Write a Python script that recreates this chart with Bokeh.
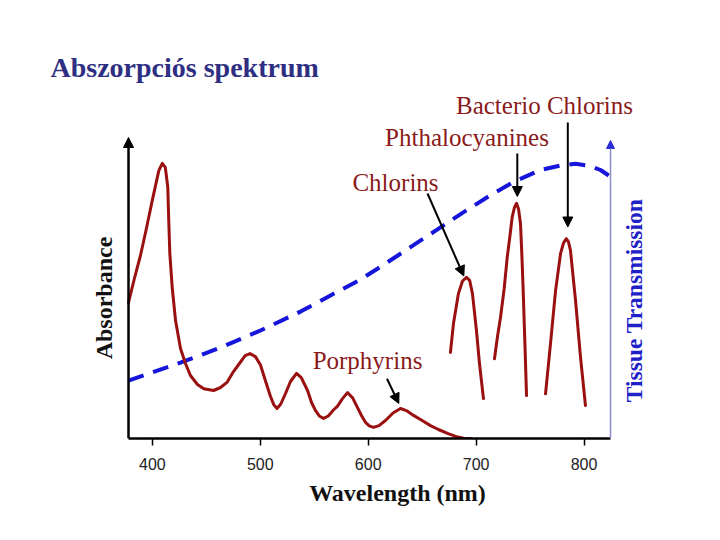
from bokeh.plotting import figure
from bokeh.models import Label, Arrow, NormalHead, FixedTicker, Range1d
from bokeh.embed import file_html
from bokeh.resources import INLINE

# ---------------- data ----------------
# Porphyrin absorbance spectrum (wavelength nm, absorbance arb. units 0-100)
porphyrin_wl = [377.9, 383.5, 389.0, 394.5, 399.9, 406.0, 409.2, 412.0, 414.3, 415.2,
                416.2, 418.4, 421.5, 426.1, 430.7, 435.3, 441.8, 447.7, 456.7, 463.2,
                469.4, 475.2, 481.7, 486.0, 490.5, 495.5, 500.2, 505.0, 509.5, 512.5,
                515.5, 519.0, 523.4, 528.0, 533.6, 538.0, 543.8, 547.5, 551.2, 555.0,
                558.6, 563.0, 567.8, 571.6, 576.0, 580.8, 585.5, 590.1, 594.0, 597.5,
                601.0, 604.9, 610.0, 616.0, 623.0, 629.9, 636.0, 642.0, 650.0, 657.7,
                665.0, 673.5, 681.0, 688.3, 694.8]
porphyrin_abs = [45.3, 53.5, 61.0, 70.0, 79.3, 89.3, 91.7, 90.4, 83.8, 72.7,
                 61.7, 50.4, 39.3, 30.0, 25.0, 21.0, 18.0, 16.6, 16.0, 17.0,
                 18.8, 22.3, 25.5, 27.6, 28.3, 27.3, 24.5, 19.0, 14.0, 11.3,
                 10.0, 11.5, 15.0, 19.0, 21.7, 20.3, 16.0, 12.0, 9.3, 7.4,
                 6.7, 7.5, 9.5, 10.8, 13.2, 15.3, 13.6, 10.3, 7.5, 5.4,
                 4.2, 3.7, 4.3, 6.0, 8.5, 10.0, 9.2, 7.7, 6.0, 4.3,
                 3.0, 1.7, 0.7, 0.1, 0.0]

chlorin_wl = [676.2, 679.0, 683.6, 687.4, 691.1, 694.0, 696.6, 700.3, 703.1, 706.8]
chlorin_abs = [28.7, 38.3, 48.3, 52.5, 53.7, 52.7, 48.3, 36.0, 25.0, 13.3]

phthalo_wl = [717.0, 719.8, 722.6, 726.0, 728.8, 731.5, 733.4, 735.5, 737.4, 739.3,
              741.1, 742.4, 743.6, 745.1, 746.7]
phthalo_abs = [26.6, 34.0, 40.4, 50.0, 60.4, 68.0, 73.8, 77.0, 78.4, 76.5,
               71.6, 61.0, 49.3, 32.7, 14.3]

bacterio_wl = [764.3, 768.9, 773.6, 778.2, 781.0, 783.5, 785.5, 787.4, 792.1, 796.7, 801.3]
bacterio_abs = [14.9, 31.6, 49.3, 61.6, 65.2, 66.6, 65.6, 62.7, 46.0, 27.1, 11.0]

# Tissue transmission (blue dashed)
trans_wl = [377.9, 426.1, 463.2, 500.2, 537.3, 565.1, 592.9, 616.0, 639.2, 664.2,
            687.4, 710.6, 734.6, 759.7, 778.2, 792.1, 806.0, 815.2, 823.6]
trans_val = [19.3, 25.3, 30.3, 36.0, 42.3, 47.7, 53.0, 58.3, 63.8, 69.7,
             75.2, 80.5, 85.5, 89.5, 91.0, 91.6, 90.8, 89.5, 87.5]

ticks = [400, 500, 600, 700, 800]
tick_labels = ["400", "500", "600", "700", "800"]

title_text = "Abszorpciós spektrum"
x_label = "Wavelength (nm)"
y_label = "Absorbance"
y2_label = "Tissue Transmission"
names = ["Porphyrins", "Chlorins", "Phthalocyanines", "Bacterio Chlorins"]

# ---------------- helpers to place annotations (page px -> data) ----------------
def X(px):
    return 600 + (px - 367.7) / 1.0793

def Y(py):
    return (438 - py) / 3.0

RED = "#9a1010"
LABEL_RED = "#8b1a1a"
BLUE = "#1515dc"
SERIF = "Liberation Serif"

FL, FR, FT, FB = 90, 704, 88, 438   # frame edges in page pixels

p = figure(frame_width=FR - FL, frame_height=FB - FT,
           x_range=Range1d(X(FL), X(FR)), y_range=Range1d(0, Y(FT)),
           output_backend="svg", toolbar_location=None, y_axis_location=None,
           min_border_left=FL, min_border_right=0, min_border_top=FT,
           min_border_bottom=86)
p.outline_line_color = None
p.grid.visible = False
p.background_fill_color = "white"
p.border_fill_color = "white"

p.title.text = title_text
p.title.align = "left"
p.title.offset = 50 - FL
p.title.text_font = SERIF
p.title.text_font_size = "28px"
p.title.text_font_style = "bold"
p.title.text_color = "#2e2e82"
p.title.standoff = 11

ax = p.xaxis[0]
ax.bounds = (X(128), X(610))
ax.ticker = FixedTicker(ticks=ticks)
ax.major_label_overrides = {t: l for t, l in zip(ticks, tick_labels)}
ax.axis_line_width = 2.5
ax.axis_line_color = "black"
ax.major_tick_in = 0
ax.major_tick_out = 7
ax.major_tick_line_width = 1.5
ax.minor_tick_line_color = None
ax.major_label_text_font = "Liberation Sans"
ax.major_label_text_font_size = "16px"
ax.major_label_text_color = "#222222"
ax.major_label_standoff = 12
ax.axis_label = x_label
ax.axis_label_text_font = SERIF
ax.axis_label_text_font_size = "24px"
ax.axis_label_text_font_style = "bold"
ax.axis_label_text_color = "#111111"
ax.axis_label_standoff = 7

# curves
p.line(trans_wl, trans_val, line_color=BLUE, line_width=4, line_dash="16 10")
for wl, ab in [(porphyrin_wl, porphyrin_abs), (chlorin_wl, chlorin_abs),
               (phthalo_wl, phthalo_abs), (bacterio_wl, bacterio_abs)]:
    p.line(wl, ab, line_color=RED, line_width=3, line_join="round", line_cap="round")

# axes arrows
p.add_layout(Arrow(x_start=X(128), y_start=0, x_end=X(128), y_end=Y(137),
                   line_width=2.5, line_color="black",
                   end=NormalHead(size=10, fill_color="black", line_color="black", line_width=1)))
p.add_layout(Arrow(x_start=X(610), y_start=0, x_end=X(610), y_end=Y(140),
                   line_width=1.5, line_color="#8c8cd0",
                   end=NormalHead(size=8, fill_color="#2b2bd8", line_color="#2b2bd8", line_width=1)))

# label arrows
for (x0, y0, x1, y1) in [(386.5, 378.3, 398.3, 403.0), (427.0, 193.0, 463.3, 275.5),
                         (516.8, 153.0, 516.8, 196.0), (567.3, 122.0, 567.3, 226.5)]:
    p.add_layout(Arrow(x_start=X(x0), y_start=Y(y0), x_end=X(x1), y_end=Y(y1),
                       line_width=2, line_color="black",
                       end=NormalHead(size=10, fill_color="black", line_color="black", line_width=1)))

# compound labels
for txt, (cx, by) in zip(names, [(367, 360.3), (395, 182), (466.5, 137), (544, 105)]):
    p.add_layout(Label(x=X(cx), y=Y(by), text=txt, text_font=SERIF, text_font_size="25px",
                       text_color=LABEL_RED, text_align="center", text_baseline="alphabetic"))

# vertical axis titles
p.add_layout(Label(x=X(103), y=Y(297.5), text=y_label, text_font=SERIF, text_font_size="24px",
                   text_font_style="bold", text_color="#111111", text_align="center",
                   text_baseline="alphabetic", angle=1.5707963))
p.add_layout(Label(x=X(633), y=Y(300), text=y2_label, text_font=SERIF, text_font_size="23.5px",
                   text_font_style="bold", text_color="#2020c8", text_align="center",
                   text_baseline="alphabetic", angle=1.5707963))

open("out.html", "w").write(file_html(p, INLINE))
